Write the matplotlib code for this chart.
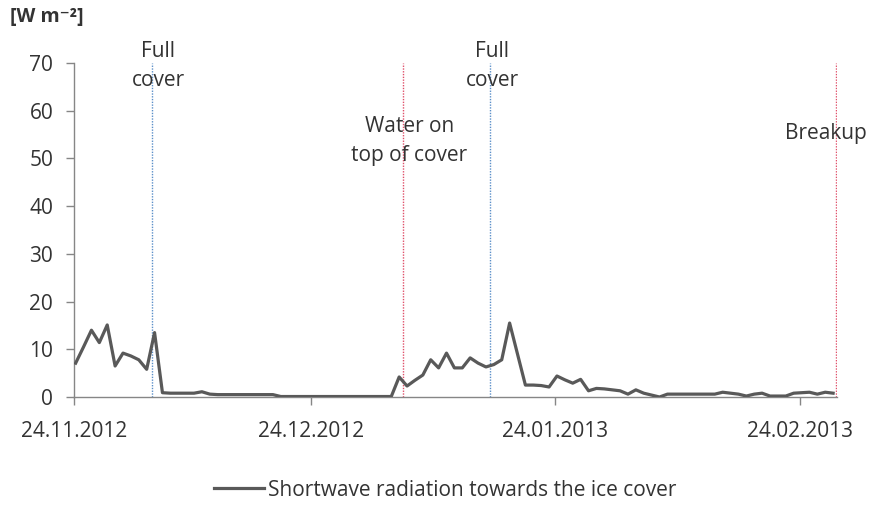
import matplotlib
matplotlib.use("Agg")
import matplotlib.pyplot as plt
import numpy as np
import pandas as pd

plt.rcParams['font.family'] = ['Open Sans', 'DejaVu Sans']

# daily shortwave radiation towards the ice cover [W m-2], 24.11.2012 - 28.02.2013
start = '2012-11-24'
radiation = [
    7.1, 10.5, 14.0, 11.4, 15.1, 6.5, 9.2, 8.6, 7.8, 5.8,
    13.5, 0.9, 0.8, 0.8, 0.8, 0.8, 1.1, 0.6, 0.5, 0.5,
    0.5, 0.5, 0.5, 0.5, 0.5, 0.5, 0.1, 0.1, 0.1, 0.1,
    0.1, 0.1, 0.1, 0.1, 0.1, 0.1, 0.1, 0.1, 0.1, 0.1,
    0.1, 4.2, 2.3, 3.5, 4.6, 7.8, 6.1, 9.2, 6.1, 6.1,
    8.2, 7.1, 6.3, 6.8, 7.8, 15.5, 9.0, 2.5, 2.5, 2.4,
    2.1, 4.4, 3.6, 2.9, 3.7, 1.3, 1.8, 1.7, 1.5, 1.3,
    0.6, 1.5, 0.8, 0.4, 0.0, 0.6, 0.6, 0.6, 0.6, 0.6,
    0.6, 0.6, 1.0, 0.8, 0.6, 0.2, 0.6, 0.8, 0.2, 0.2,
    0.2, 0.8, 0.9, 1.0, 0.6, 1.0, 0.8,
]
dates = pd.date_range(start, periods=len(radiation), freq='D') + pd.Timedelta(hours=5)

# events marked with vertical dotted lines
event_dates = pd.to_datetime(['2012-12-03 20:00', '2013-01-04 16:00',
                              '2013-01-15 16:00', '2013-02-28 15:00'])
event_colors = ['#5b8fc9', '#e0506a', '#5b8fc9', '#e0506a']

tick_dates = pd.to_datetime(['2012-11-24', '2012-12-24', '2013-01-24', '2013-02-24'])
tick_labels = ['24.11.2012', '24.12.2012', '24.01.2013', '24.02.2013']

fig = plt.figure(figsize=(8.78, 5.08), dpi=100)
ax = fig.add_axes([0.0843, 0.2185, 0.8687, 0.6575])

line, = ax.plot(dates, radiation, color='#595959', lw=2.3,
                label='Shortwave radiation towards the ice cover', zorder=3)

for d, c in zip(event_dates, event_colors):
    ax.axvline(d, color=c, lw=1.0, ls=(0, (1, 1)), zorder=2)

ax.set_ylim(0, 70)
ax.set_yticks(np.arange(0, 71, 10))
ax.set_xlim(pd.Timestamp('2012-11-24'), pd.Timestamp('2013-02-28 16:00'))
ax.set_xticks(tick_dates)
ax.set_xticklabels(tick_labels)

for s in ['top', 'right']:
    ax.spines[s].set_visible(False)
for s in ['left', 'bottom']:
    ax.spines[s].set_color('#868686')
    ax.spines[s].set_linewidth(1.0)
ax.tick_params(axis='y', colors='#868686', labelcolor='#333333',
               labelsize=15, length=6, width=1, pad=9)
ax.tick_params(axis='x', colors='#868686', labelcolor='#333333',
               labelsize=15, length=6, width=1, pad=11)

txt = dict(fontsize=15, color='#333333', ha='center', va='center', linespacing=1.5)
ax.text(pd.Timestamp('2012-12-04 16:00'), 69.3, 'Full\ncover', **txt)
ax.text(pd.Timestamp('2013-01-05 12:00'), 53.7, 'Water on\ntop of cover', **txt)
ax.text(pd.Timestamp('2013-01-16 00:00'), 69.3, 'Full\ncover', **txt)
ax.text(pd.Timestamp('2013-02-27 08:00'), 55.3, 'Breakup', **txt)

fig.text(0.011, 0.966, '[W m\u207b\u00b2]', fontsize=14, fontweight='bold',
         color='#333333', ha='left', va='center')

fig.legend(handles=[line], loc='center', bbox_to_anchor=(0.507, 0.035),
           frameon=False, fontsize=15, handlelength=2.4, handletextpad=0.2,
           labelcolor='#333333')

fig.savefig('out.png', dpi=100)
